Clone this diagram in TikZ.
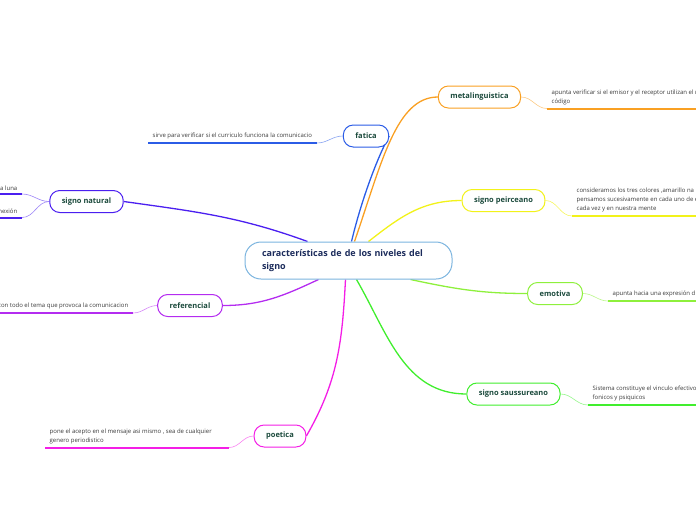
\documentclass[tikz,border=0pt]{standalone}
\usepackage{fontspec}
\setmainfont{Open Sans}
\usetikzlibrary{backgrounds}
\definecolor{MapNavy}{HTML}{1B2B5B}
\definecolor{MapInk}{HTML}{1B4A3C}
\definecolor{MapGrey}{HTML}{3A3A3A}
\definecolor{MapHub}{HTML}{7BB4DF}
\definecolor{MapFatica}{HTML}{2B5CE6}
\definecolor{MapMeta}{HTML}{F9A023}
\definecolor{MapPeirce}{HTML}{F2F21A}
\definecolor{MapEmotiva}{HTML}{8EF03C}
\definecolor{MapSaussure}{HTML}{41EE2E}
\definecolor{MapPoetica}{HTML}{F41EE6}
\definecolor{MapReferencial}{HTML}{B42CF0}
\definecolor{MapNatural}{HTML}{4B1FF0}
\tikzset{
  hub/.style={
    rounded corners=16pt,
    draw=MapHub,
    line width=1pt,
    fill=white,
    minimum height=37pt,
    text width=173pt,
    inner xsep=17pt,
    align=left,
    font=\fontsize{9}{13.5}\selectfont\bfseries,
    text=MapNavy
  },
  topic/.style={
    rounded corners=10pt,
    line width=1pt,
    fill=white,
    minimum height=22pt,
    inner xsep=12pt,
    font=\fontsize{7.5}{8}\selectfont\bfseries,
    text=MapInk
  },
  leaf/.style={
    align=left,
    inner xsep=4.5pt,
    inner ysep=3.5pt,
    font=\fontsize{6}{9}\selectfont,
    text=MapGrey
  },
  branch/.style={line width=1.3pt},
  twig/.style={line width=.6pt},
  underline/.style={line width=2pt}
}

\begin{document}
\begin{tikzpicture}[x=1pt,y=-1pt]
  \useasboundingbox (0,0) rectangle (696,520);
  \clip (0,0) rectangle (696,520);

  % Central idea and the eight topics round it.
  \node[hub] (hub) at (348.5,260.5) {características de de los niveles del\\signo};
  \node[topic,draw=MapFatica] (fatica) at (366,136) {fatica};
  \node[topic,draw=MapMeta] (meta) at (479.5,97) {metalinguistica};
  \node[topic,draw=MapPeirce] (peirce) at (503.5,200.5) {signo peirceano};
  \node[topic,draw=MapEmotiva] (emotiva) at (555,293.5) {emotiva};
  \node[topic,draw=MapSaussure] (saussure) at (513.5,394) {signo saussureano};
  \node[topic,draw=MapPoetica] (poetica) at (280,436) {poetica};
  \node[topic,draw=MapReferencial] (referencial) at (190,305.5) {referencial};
  \node[topic,draw=MapNatural] (natural) at (86.5,201.5) {signo natural};

  % Notes, each sitting on a thick underline.
  \node[leaf,anchor=south west] (faticanote) at (148,143) {sirve para verificar si el curriculo funciona la comunicacio};
  \coordinate (faticaend) at (317,143);
  \node[leaf,anchor=south west] (metanote) at (547,108.5) {apunta verificar si el emisor y el receptor utilizan el m\\código};
  \node[leaf,anchor=south west] (peircenote) at (572,216) {consideramos los tres colores ,amarillo na\\pensamos sucesivamente en cada uno de e\\cada vez y en nuestra mente};
  \node[leaf,anchor=south west] (emotivanote) at (608,301) {apunta hacia una expresión d};
  \node[leaf,anchor=south west] (saussurenote) at (588,405) {Sistema constituye el vinculo efectivo\\fonicos y psiquicos};
  \node[leaf,anchor=south west] (poeticanote) at (45,447.5) {pone el acepto en el mensaje asi mismo , sea de cualquier\\genero periodistico};
  \coordinate (poeticaend) at (229,447.5);
  \node[leaf,anchor=south east] (refnote) at (133,313) {con todo el tema que provoca la comunicacion};
  \node[leaf,anchor=south east] (lunanote) at (22,194) {la luna};
  \node[leaf,anchor=south east] (nexionnote) at (22,217.5) {nexión};

  \draw[underline,MapFatica] (faticanote.south west) -- (faticaend);
  \draw[underline,MapMeta] (metanote.south west) -- ++(160,0);
  \draw[underline,MapPeirce] (peircenote.south west) -- ++(160,0);
  \draw[underline,MapEmotiva] (emotivanote.south west) -- ++(160,0);
  \draw[underline,MapSaussure] (saussurenote.south west) -- ++(160,0);
  \draw[underline,MapPoetica] (poeticanote.south west) -- (poeticaend);
  \draw[underline,MapReferencial] (refnote.south east) -- ++(-160,0);
  \draw[underline,MapNatural] (lunanote.south east) -- ++(-60,0);
  \draw[underline,MapNatural] (nexionnote.south east) -- ++(-60,0);

  % Branches and twigs stay behind the boxes.
  \begin{scope}[on background layer]
    \draw[branch,MapFatica] ([xshift=3pt]hub.north) .. controls +(12,-50) and +(-8,14) .. (fatica.east);
    \draw[branch,MapMeta] ([xshift=6pt]hub.north) .. controls +(27,-78) and +(-42,0) .. (meta.west);
    \draw[branch,MapPeirce] ([xshift=20pt]hub.north) to[out=38,in=180] (peirce.west);
    \draw[branch,MapNatural] ([xshift=-41pt]hub.north) to[out=160,in=-8] (natural.east);
    \draw[branch,MapEmotiva] ([xshift=62pt]hub.south) to[out=-12,in=180] (emotiva.west);
    \draw[branch,MapSaussure] ([xshift=8pt]hub.south) to[out=-60,in=180] (saussure.west);
    \draw[branch,MapPoetica] ([xshift=-3pt]hub.south) to[out=-93,in=60] (poetica.east);
    \draw[branch,MapReferencial] ([xshift=-30pt]hub.south) to[out=-155,in=0] (referencial.east);

    \draw[twig,MapFatica!55] (fatica.west) to[out=180,in=0] (faticaend);
    \draw[twig,MapMeta!55] (meta.east) to[out=0,in=180] (metanote.south west);
    \draw[twig,MapPeirce!70] (peirce.east) to[out=0,in=180] (peircenote.south west);
    \draw[twig,MapEmotiva!60] (emotiva.east) to[out=0,in=180] (emotivanote.south west);
    \draw[twig,MapSaussure!55] (saussure.east) to[out=0,in=180] (saussurenote.south west);
    \draw[twig,MapPoetica!55] (poetica.west) to[out=180,in=0] (poeticaend);
    \draw[twig,MapReferencial!55] (referencial.west) to[out=180,in=0] (refnote.south east);
    \draw[twig,MapNatural!55] (natural.west) to[out=180,in=0] (lunanote.south east);
    \draw[twig,MapNatural!55] (natural.west) to[out=180,in=0] (nexionnote.south east);
  \end{scope}
\end{tikzpicture}
\end{document}
